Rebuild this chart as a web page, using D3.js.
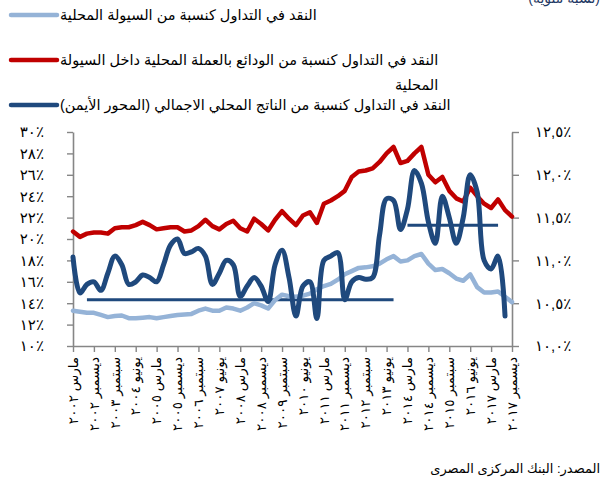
<!DOCTYPE html>
<html>
<head>
<meta charset="utf-8">
<script src="https://cdn.jsdelivr.net/npm/d3@7"></script>
<style>
  body { margin: 0; background: #fff; }
  svg { display: block; font-family: "Liberation Sans", "DejaVu Sans", sans-serif; }
</style>
</head>
<body>
<svg id="chart" width="602" height="486"></svg>
<script>
// Quarterly observations, March 2002 - December 2017
const tickIndex = [0, 3, 6, 9, 12, 15, 18, 21, 24, 27, 30, 33, 36, 39, 42, 45, 48, 51, 54, 57, 60, 63];
const tickMonths = [
  "مارس", "ديسمبر", "سبتمبر", "يونيو", "مارس", "ديسمبر", "سبتمبر", "يونيو", "مارس", "ديسمبر", "سبتمبر",
  "يونيو", "مارس", "ديسمبر", "سبتمبر", "يونيو", "مارس", "ديسمبر", "سبتمبر", "يونيو", "مارس", "ديسمبر"
];
const tickYears = [
  "٢٠٠٢", "٢٠٠٢", "٢٠٠٣", "٢٠٠٤", "٢٠٠٥", "٢٠٠٥", "٢٠٠٦", "٢٠٠٧", "٢٠٠٨", "٢٠٠٨", "٢٠٠٩",
  "٢٠١٠", "٢٠١١", "٢٠١١", "٢٠١٢", "٢٠١٣", "٢٠١٤", "٢٠١٤", "٢٠١٥", "٢٠١٦", "٢٠١٧", "٢٠١٧"
];

// Currency in circulation as % of domestic liquidity (left axis)
const liquidityShare = [
  13.3, 13.2, 13.1, 13.1, 12.9, 12.7, 12.8, 12.85, 12.6, 12.6,
  12.65, 12.7, 12.6, 12.7, 12.8, 12.9, 12.95, 13.0, 13.3, 13.5,
  13.3, 13.3, 13.6, 13.5, 13.3, 13.6, 14.0, 13.8, 13.5, 14.3,
  14.8, 14.65, 14.6, 14.7, 14.9, 15.3, 15.6, 15.8, 16.2, 16.7,
  17.0, 17.3, 17.35, 17.45, 17.7, 18.1, 18.4, 17.9, 18.0, 18.4,
  18.6, 17.7, 17.1, 17.2, 16.8, 16.3, 16.1, 16.7, 15.5, 15.0,
  15.0, 15.1, 14.6, 14.1
];

// Currency in circulation as % of local-currency deposits in domestic liquidity (left axis)
const depositShare = [
  20.7, 20.2, 20.5, 20.6, 20.6, 20.5, 21.0, 21.1, 21.1, 21.3,
  21.6, 21.3, 20.9, 21.0, 21.1, 21.1, 20.7, 20.8, 21.2, 21.8,
  21.2, 20.9, 21.4, 21.7, 21.0, 20.7, 21.9, 21.4, 20.8, 21.8,
  22.6, 21.9, 21.3, 22.2, 22.5, 21.5, 23.3, 23.6, 24.0, 24.5,
  25.8, 26.3, 26.4, 26.6, 27.2, 28.0, 28.6, 27.1, 27.3, 28.0,
  28.6, 26.0, 25.3, 25.8, 24.5, 23.8, 23.5, 24.8, 24.0, 23.3,
  22.9, 23.7, 22.7, 22.1
];

// Currency in circulation as % of GDP (right axis)
const gdpShare = [
  11.04, 10.62, 10.72, 10.75, 10.65, 10.85, 11.05, 10.95, 10.72, 10.75,
  10.83, 10.8, 10.75, 10.95, 11.18, 11.25, 11.08, 11.1, 11.14, 11.05,
  10.72, 10.85, 11.0, 10.95, 10.58, 10.7, 10.8, 10.7, 10.52, 10.95,
  11.12, 10.8, 10.35, 10.7, 10.75, 10.32, 11.0, 11.05, 11.09, 10.54,
  10.75, 10.8, 10.78, 10.8, 11.3, 11.72, 11.7, 11.36, 11.6, 12.05,
  11.9, 11.45, 11.2, 11.75, 11.5, 11.2, 11.5, 12.0, 11.8, 11.0,
  10.9, 11.05, 10.35
];

// Period averages of the GDP ratio (right axis)
const avgStart = [2, 48];
const avgEnd = [46, 61];
const avgValue = [10.54, 11.41];

const leftTicks = [10, 12, 14, 16, 18, 20, 22, 24, 26, 28, 30];
const leftTickLabels = ["١٠٪", "١٢٪", "١٤٪", "١٦٪", "١٨٪", "٢٠٪", "٢٢٪", "٢٤٪", "٢٦٪", "٢٨٪", "٣٠٪"];
const rightTicks = [10, 10.5, 11, 11.5, 12, 12.5];
const rightTickLabels = ["١٠,٠٪", "١٠,٥٪", "١١,٠٪", "١١,٥٪", "١٢,٠٪", "١٢,٥٪"];

const legendLabels = [
  "النقد في التداول كنسبة من السيولة المحلية",
  "النقد في التداول كنسبة من الودائع بالعملة المحلية داخل السيولة",
  "النقد في التداول كنسبة من الناتج المحلي الاجمالي (المحور الأيمن)"
];
const legendWrap = "المحلية";
const sourceText = "المصدر: البنك المركزى المصرى";
const unitText = "(نسبة مئوية)";

const colors = { light: "#95B3D7", red: "#C00000", dark: "#1F497D", axis: "#868686" };

const svg = d3.select("#chart");
const plotLeft = 73, plotRight = 512, plotTop = 132, plotBottom = 346;

const x = d3.scaleLinear().domain([0, 63]).range([plotLeft, plotRight]);
const yL = d3.scaleLinear().domain([10, 30]).range([plotBottom, plotTop]);
const yR = d3.scaleLinear().domain([10, 12.5]).range([plotBottom, plotTop]);

// Axes
const gx = svg.append("g").attr("transform", `translate(0,${plotBottom})`)
  .call(d3.axisBottom(x).tickValues(tickIndex).tickFormat("").tickSize(6).tickSizeOuter(0));
const gl = svg.append("g").attr("transform", `translate(${plotLeft},0)`)
  .call(d3.axisLeft(yL).tickValues(leftTicks).tickFormat("").tickSize(6).tickSizeOuter(0));
const gr = svg.append("g").attr("transform", `translate(${plotRight},0)`)
  .call(d3.axisRight(yR).tickValues(rightTicks).tickFormat("").tickSize(7).tickSizeOuter(0));
[gx, gl, gr].forEach(g => {
  g.selectAll("path.domain").attr("stroke", colors.axis).attr("stroke-width", 1.6);
  g.selectAll(".tick line").attr("stroke", colors.axis).attr("stroke-width", 1.4);
});

// Tick labels
svg.append("g").selectAll("text").data(leftTicks).join("text")
  .attr("x", 44).attr("y", d => yL(d)).attr("dy", "0.36em")
  .attr("text-anchor", "end").attr("font-size", 15).attr("letter-spacing", 1.5)
  .attr("fill", "#000")
  .text((d, i) => leftTickLabels[i]);
svg.append("g").selectAll("text").data(rightTicks).join("text")
  .attr("x", 535).attr("y", d => yR(d)).attr("dy", "0.36em")
  .attr("text-anchor", "start").attr("font-size", 15).attr("letter-spacing", 0.8)
  .attr("fill", "#000")
  .text((d, i) => rightTickLabels[i]);
const xl = svg.append("g").selectAll("text").data(tickIndex).join("text")
  .attr("transform", d => `translate(${x(d)},357) rotate(-90)`)
  .attr("dy", "0.35em").attr("text-anchor", "end")
  .attr("font-size", 13.5).attr("fill", "#000");
xl.append("tspan").text((d, i) => tickMonths[i]);
xl.append("tspan").text("\u00a0");
xl.append("tspan").attr("letter-spacing", 3).text((d, i) => tickYears[i]);

// Period averages
svg.append("g").selectAll("line").data(avgValue).join("line")
  .attr("x1", (d, i) => x(avgStart[i])).attr("x2", (d, i) => x(avgEnd[i]))
  .attr("y1", d => yR(d)).attr("y2", d => yR(d))
  .attr("stroke", colors.dark).attr("stroke-width", 3);

// Series
const lineL = d3.line().x((d, i) => x(i)).y(d => yL(d));
const lineR = d3.line().x((d, i) => x(i)).y(d => yR(d)).curve(d3.curveCatmullRom.alpha(0.5));
svg.append("path").datum(liquidityShare).attr("d", lineL)
  .attr("fill", "none").attr("stroke", colors.light).attr("stroke-width", 4.5)
  .attr("stroke-linejoin", "round").attr("stroke-linecap", "round");
svg.append("path").datum(depositShare).attr("d", lineL)
  .attr("fill", "none").attr("stroke", colors.red).attr("stroke-width", 4.5)
  .attr("stroke-linejoin", "round").attr("stroke-linecap", "round");
svg.append("path").datum(gdpShare).attr("d", lineR)
  .attr("fill", "none").attr("stroke", colors.dark).attr("stroke-width", 5)
  .attr("stroke-linejoin", "round").attr("stroke-linecap", "round");

// Legend
const legendY = [15, 60, 105];
const legendColors = [colors.light, colors.red, colors.dark];
const lg = svg.append("g");
lg.selectAll("line").data(legendY).join("line")
  .attr("x1", 11).attr("x2", 57).attr("y1", d => d).attr("y2", d => d)
  .attr("stroke", (d, i) => legendColors[i]).attr("stroke-width", 4.5)
  .attr("stroke-linecap", "round");
const legendText = lg.selectAll("text.lbl").data(legendLabels).join("text")
  .attr("class", "lbl")
  .attr("x", 60).attr("y", (d, i) => legendY[i]).attr("dy", "0.35em")
  .attr("direction", "rtl").attr("text-anchor", "end")
  .attr("font-size", 14.5).attr("fill", "#000")
  .text(d => d);
const secondWidth = legendText.nodes()[1].getComputedTextLength();
lg.append("text")
  .attr("x", 60 + secondWidth).attr("y", 85).attr("dy", "0.35em")
  .attr("direction", "rtl").attr("text-anchor", "start")
  .attr("font-size", 14.5).attr("fill", "#000")
  .text(legendWrap);

// Unit note and source
svg.append("text").attr("x", 600).attr("y", 3)
  .attr("direction", "rtl").attr("text-anchor", "start")
  .attr("font-size", 14).attr("fill", "#1F3864").text(unitText);
svg.append("text").attr("x", 600).attr("y", 473)
  .attr("direction", "rtl").attr("text-anchor", "start")
  .attr("font-size", 13).attr("fill", "#000").text(sourceText);
</script>
</body>
</html>
